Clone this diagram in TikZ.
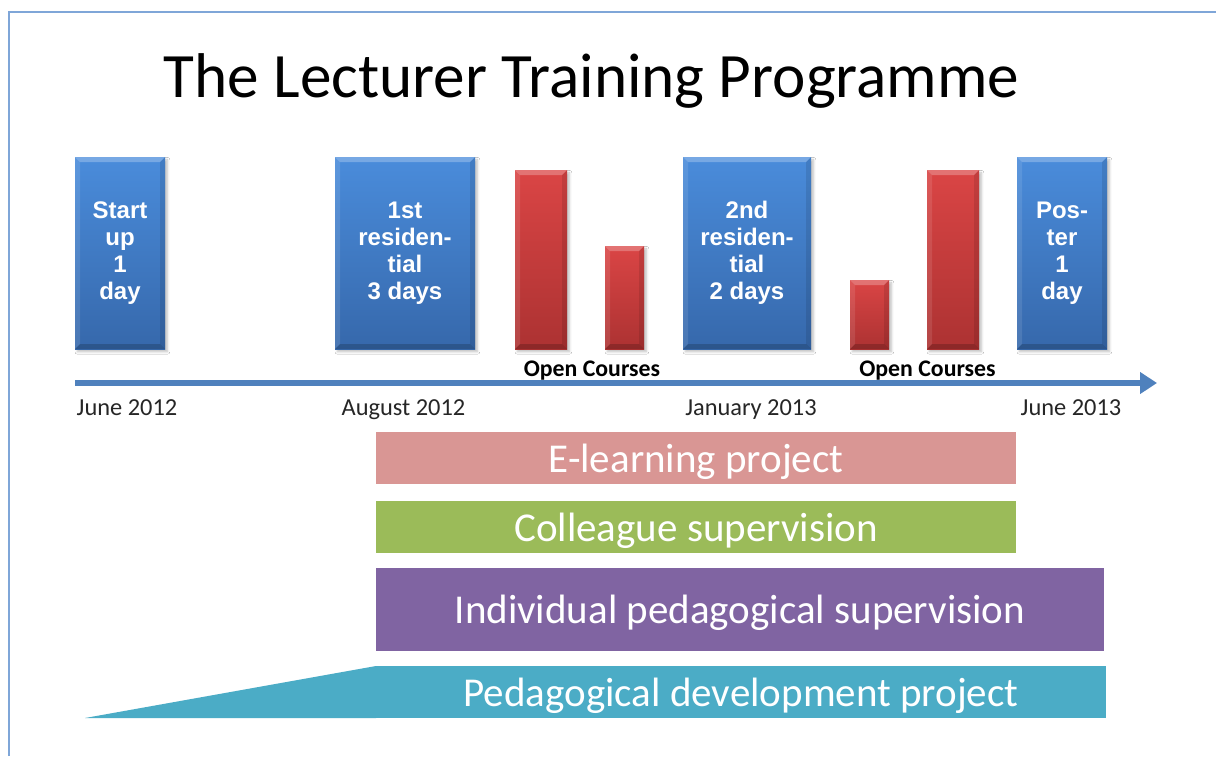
\documentclass[tikz,border=0pt]{standalone}
\usepackage{fontspec}
\setmainfont{Carlito}
\newfontfamily\arialf{Liberation Sans}
\usetikzlibrary{shadows.blur,arrows.meta}
\definecolor{bluetop}{HTML}{4A8CDB}
\definecolor{bluebot}{HTML}{3668AB}
\definecolor{redtop}{HTML}{DA4545}
\definecolor{redbot}{HTML}{AC3232}
\definecolor{axisblue}{HTML}{4F81BD}
\definecolor{pinkbar}{HTML}{D99694}
\definecolor{greenbar}{HTML}{9BBB59}
\definecolor{purplebar}{HTML}{8064A2}
\definecolor{tealbar}{HTML}{4BACC6}
\definecolor{slideframe}{HTML}{7FA6D8}
\tikzset{
  bevel/.style={path picture={
    \fill[white,opacity=0.25] (path picture bounding box.north west) -- (path picture bounding box.north east)
      -- ([shift={(-5,5)}]path picture bounding box.north east) -- ([shift={(5,5)}]path picture bounding box.north west) -- cycle;
    \fill[white,opacity=0.10] (path picture bounding box.north west) -- ([shift={(5,5)}]path picture bounding box.north west)
      -- ([shift={(5,-5)}]path picture bounding box.south west) -- (path picture bounding box.south west) -- cycle;
    \fill[black,opacity=0.10] (path picture bounding box.north east) -- ([shift={(-5,5)}]path picture bounding box.north east)
      -- ([shift={(-5,-5)}]path picture bounding box.south east) -- (path picture bounding box.south east) -- cycle;
    \fill[black,opacity=0.18] (path picture bounding box.south west) -- ([shift={(5,-5)}]path picture bounding box.south west)
      -- ([shift={(-5,-5)}]path picture bounding box.south east) -- (path picture bounding box.south east) -- cycle;
  }},
  evbox/.style={rectangle, inner sep=0pt, outer sep=0pt, bevel,
    blur shadow={shadow xshift=1.2pt, shadow yshift=-1.4pt, shadow blur radius=1.2pt, shadow blur steps=5, shadow opacity=25},
    text=white, align=center, font=\arialf\bfseries\fontsize{12}{13.5}\selectfont},
  bluebox/.style={evbox, top color=bluetop, bottom color=bluebot, minimum height=96pt},
  redbox/.style={evbox, top color=redtop, bottom color=redbot},
  datelbl/.style={anchor=base, font=\fontsize{12.2}{14}\selectfont, text=black!85},
  oclbl/.style={anchor=base, font=\bfseries\fontsize{11.9}{13}\selectfont},
  bar/.style={rectangle, inner sep=0pt, outer sep=0pt, text=white, text depth=0pt, font=\fontsize{20.5}{24}\selectfont},
}
\begin{document}
\begin{tikzpicture}[x=0.5pt, y=-0.5pt]
\useasboundingbox (0,0) rectangle (1216,756);
\fill[white] (0,0) rectangle (1216,756);
\draw[slideframe, line width=0.8pt] (9,756) -- (9,12) -- (1216,12);

\node[anchor=base, font=\fontsize{31.6}{36}\selectfont] (title) at (591.5,97) {The Lecturer Training Programme};

% event boxes
\node[bluebox, minimum width=45pt] (start) at (120,253) {Start\\up\\1\\day};
\node[bluebox, minimum width=70pt] (res1) at (405,253) {1st\\residen-\\tial\\3 days};
\node[redbox, minimum width=26pt, minimum height=89.5pt] (oc1) at (541,259.5) {};
\node[redbox, minimum width=19.5pt, minimum height=51.5pt] (oc2) at (624.5,297.5) {};
\node[bluebox, minimum width=64pt] (res2) at (747,253) {2nd\\residen-\\tial\\2 days};
\node[redbox, minimum width=19.5pt, minimum height=34.5pt] (oc3) at (869.5,314.5) {};
\node[redbox, minimum width=26pt, minimum height=89.5pt] (oc4) at (953,259.5) {};
\node[bluebox, minimum width=45pt] (poster) at (1062,253) {Pos-\\ter\\1\\day};

\node[oclbl] (ocl1) at (592,376) {Open Courses};
\node[oclbl] (ocl2) at (927.5,376) {Open Courses};

% time axis
\coordinate (axisL) at (75,383);
\coordinate (axisR) at (1157,383);
\draw[axisblue, line width=2.6pt, -{Triangle[length=8.5pt,width=10.5pt]}] (axisL) -- (axisR);

\node[datelbl] (d1) at (127,415) {June 2012};
\node[datelbl] (d2) at (403.5,415) {August 2012};
\node[datelbl] (d3) at (751,415) {January 2013};
\node[datelbl] (d4) at (1071,415) {June 2013};

% bars
\node[bar, fill=pinkbar, minimum width=320pt, minimum height=26pt] (elearn) at (696,458) {E-learning project};
\node[bar, fill=greenbar, minimum width=320pt, minimum height=26pt] (colleague) at (696,527) {Colleague supervision};
\node[bar, fill=purplebar, minimum width=364pt, minimum height=41.5pt] (indiv) at (740,609.5) {Individual pedagogical supervision};
\coordinate (pedtip) at (85,718);
\node[bar, fill=tealbar, minimum width=365pt, minimum height=26pt] (ped) at (741,692) {Pedagogical development project};
\fill[tealbar] (ped.north west) -- (ped.south west) -- (pedtip) -- cycle;
\end{tikzpicture}
\end{document}
